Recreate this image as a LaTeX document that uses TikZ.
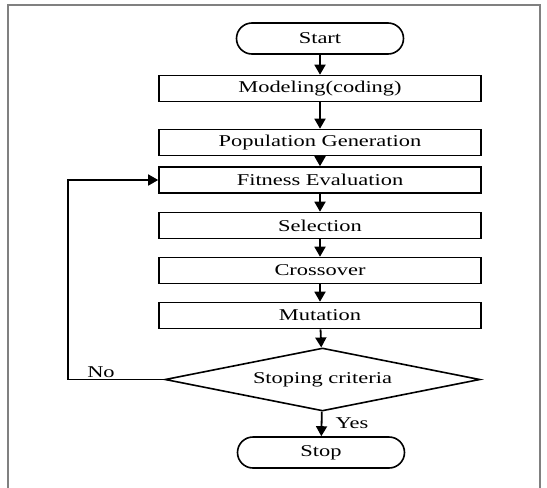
\documentclass[tikz,border=0pt]{standalone}
\usepackage{fontspec}
\setmainfont[FakeStretch=1.36]{Liberation Serif}
\usetikzlibrary{shapes.misc,shapes.geometric,arrows.meta}
\begin{document}
\begin{tikzpicture}[x=1pt,y=-1pt,
  every node/.style={font=\fontsize{16.5}{19}\selectfont},
  procbox/.style={draw, line width=1.6pt, rectangle, minimum width=322pt, minimum height=26pt, inner sep=0pt},
  term/.style={draw, line width=1.6pt, rounded rectangle, minimum width=167pt, minimum height=31pt, inner sep=0pt},
  decide/.style={draw, line width=1.6pt, diamond, minimum width=315pt, minimum height=63pt, inner sep=0pt, aspect=5},
  flow/.style={line width=1.8pt, -{Triangle[width=11pt,length=10pt]}},
  lbl/.style={inner sep=0pt}
]
\useasboundingbox (0,0) rectangle (547,488);
\draw[line width=1.5pt, gray] (8,488) -- (8,5) -- (540,5) -- (540,488);

\node[term] (start) at (320,38.5) {Start};
\node[procbox] (model) at (320,88.5) {Modeling(coding)};
\node[procbox] (pop) at (320,142.5) {Population Generation};
\node[procbox] (fit) at (320,180) {Fitness Evaluation};
\node[procbox] (sel) at (320,225.5) {Selection};
\node[procbox] (cross) at (320,270.5) {Crossover};
\node[procbox] (mut) at (320,315.5) {Mutation};
\node[decide] (crit) at (322.5,379.5) {Stoping criteria};
\node[term] (stop) at (321,452.5) {Stop};

\coordinate (nobot) at (68,379.5);
\coordinate (notop) at (68,180);

\draw[flow] (start) -- (model);
\draw[flow] (model) -- (pop);
\draw[flow] (pop) -- (fit);
\draw[flow] (fit) -- (sel);
\draw[flow] (sel) -- (cross);
\draw[flow] (cross) -- (mut);
\draw[flow] (mut) -- (crit);
\draw[flow] (crit) -- (stop);
\draw[line width=1.6pt, -{Triangle[width=11pt,length=10pt]}] (crit.west) -- (nobot) -- (notop) -- (fit.west);

\node[lbl] (no) at (101,372) {No};
\node[lbl] (yes) at (352,423) {Yes};
\end{tikzpicture}
\end{document}
